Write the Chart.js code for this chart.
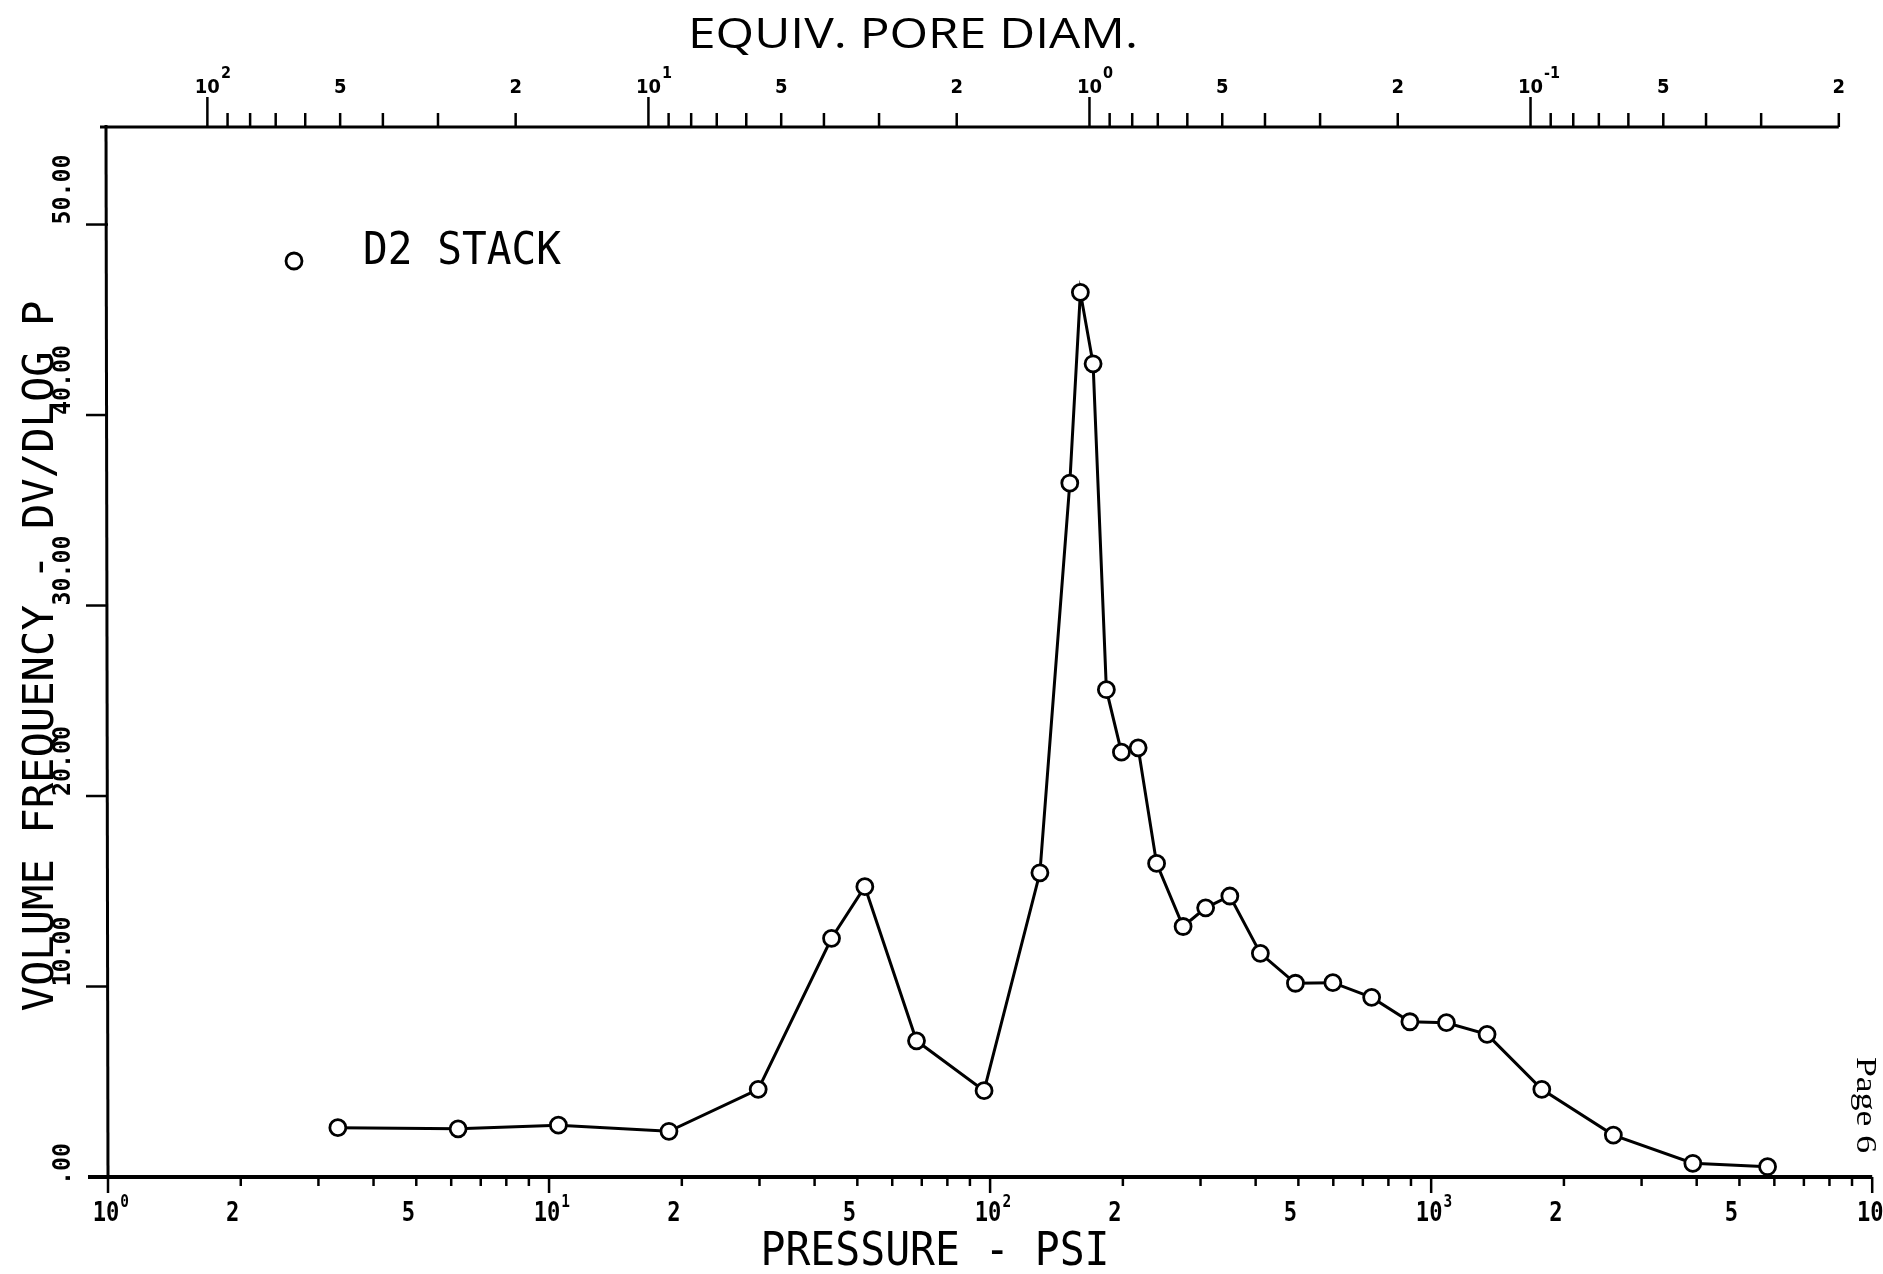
<!DOCTYPE html>
<html>
<head>
<meta charset="utf-8">
<script src="https://cdn.jsdelivr.net/npm/chart.js@4.4.0/dist/chart.umd.min.js"></script>
<style>
  html, body { margin: 0; padding: 0; background: #ffffff; }
  #wrap { width: 1883px; height: 1274px; position: relative; }
</style>
</head>
<body>
<div id="wrap"><canvas id="c" width="1883" height="1274"></canvas></div>
<script>
// ---------------- DATA ----------------
const seriesName = 'D2 STACK';
const pressurePsi = [3.32, 6.22, 10.5, 18.7, 29.8, 43.7, 52.0, 68.1, 96.9, 129.7, 151.6, 160.2, 171.2, 183.5, 198.5, 216.6,
  238.5, 273.9, 308.1, 349.6, 410, 492.4, 598.6, 733, 895, 1083, 1339, 1782, 2589, 3920, 5791];
const volumeFrequency = [2.59, 2.53, 2.72, 2.40, 4.60, 12.53, 15.24, 7.15, 4.53, 15.97, 36.43, 46.44, 42.69, 25.58, 22.30, 22.53,
  16.46, 13.15, 14.13, 14.75, 11.74, 10.17, 10.20, 9.43, 8.15, 8.10, 7.49, 4.60, 2.20, 0.72, 0.54];

const pressureMin = 1;
const pressureMax = 10000;
const pressureLabelValues = [1, 2, 5, 10, 20, 50, 100, 200, 500, 1000, 2000, 5000, 10000];
const pressureLabels = ['10^0', '2', '5', '10^1', '2', '5', '10^2', '2', '5', '10^3', '2', '5', '10^4'];

const washburnConstant = 168; // equiv. pore diameter (µm) = constant / pressure (psi)
const diameterLabelValues = [100, 50, 20, 10, 5, 2, 1, 0.5, 0.2, 0.1, 0.05, 0.02];
const diameterLabels = ['10^2', '5', '2', '10^1', '5', '2', '10^0', '5', '2', '10^-1', '5', '2'];
const diameterTickValues = [100, 90, 80, 70, 60, 50, 40, 30, 20, 10, 9, 8, 7, 6, 5, 4, 3, 2, 1,
  0.9, 0.8, 0.7, 0.6, 0.5, 0.4, 0.3, 0.2, 0.1, 0.09, 0.08, 0.07, 0.06, 0.05, 0.04, 0.03, 0.02];

const volumeMin = 0;
const volumeMax = 55.12;
const volumeTicks = [0, 10, 20, 30, 40, 50];
const volumeLabels = ['.00', '10.00', '20.00', '30.00', '40.00', '50.00'];

const titleTop = 'EQUIV. PORE DIAM.';
const titleBottom = 'PRESSURE - PSI';
const titleLeft = 'VOLUME FREQUENCY - DV/DLOG P';
const pageNote = 'Page 6';

// ---------------- HELPERS ----------------
const PLOT_FONT = '"DejaVu Sans Mono", "Liberation Mono", monospace';
const isDecade = v => { const l = Math.log10(v); return Math.abs(l - Math.round(l)) < 1e-9; };
const pressureTickValues = [];
for (let e = 0; e < 4; e++) for (let m = 1; m <= 9; m++) pressureTickValues.push(m * Math.pow(10, e));
pressureTickValues.push(10000);

function textAt(ctx, text, x, y, font, o = {}) {
  ctx.save();
  ctx.translate(x, y);
  if (o.rotate) ctx.rotate(o.rotate);
  ctx.font = font;
  let sx = o.scaleX || 1;
  if (o.fitWidth) sx = o.fitWidth / ctx.measureText(text).width;
  ctx.scale(sx, 1);
  ctx.fillStyle = '#000';
  ctx.textAlign = o.align || 'left';
  ctx.textBaseline = o.baseline || 'alphabetic';
  ctx.fillText(text, 0, 0);
  ctx.restore();
}

// label centred on the tick (shifted a little left, as the plotter did); exponent raised to the right
function powerLabel(ctx, label, x, y, font, supFont, supRise, sx, shiftBase, shiftDigit) {
  if (label.indexOf('^') < 0) { textAt(ctx, label, x - shiftDigit, y, font, {align: 'center', scaleX: sx}); return; }
  const [base, exp] = label.split('^');
  ctx.save();
  ctx.font = font;
  const bw = ctx.measureText(base).width * sx;
  ctx.restore();
  textAt(ctx, base, x - shiftBase, y, font, {align: 'center', scaleX: sx});
  textAt(ctx, exp, x - shiftBase + bw / 2 + 1, y - supRise, supFont, {align: 'left', scaleX: sx});
}

const plotterAxes = {
  id: 'plotterAxes',
  beforeDatasetsDraw(chart) {
    const {ctx, chartArea: a, scales: {x, y}} = chart;
    ctx.save();
    ctx.strokeStyle = '#000';
    ctx.lineCap = 'butt';

    // ---- bottom axis (pressure) ----
    ctx.lineWidth = 4;
    ctx.beginPath(); ctx.moveTo(a.left - 20, a.bottom); ctx.lineTo(a.right, a.bottom); ctx.stroke();
    ctx.lineWidth = 2.5;
    pressureTickValues.forEach(v => {
      const px = x.getPixelForValue(v);
      const len = isDecade(v) ? 16 : 9;
      ctx.beginPath(); ctx.moveTo(px, a.bottom); ctx.lineTo(px, a.bottom + len); ctx.stroke();
    });
    pressureLabelValues.forEach((v, i) => {
      powerLabel(ctx, pressureLabels[i], x.getPixelForValue(v), a.bottom + 44,
        'bold 26px ' + PLOT_FONT, 'bold 17px ' + PLOT_FONT, 14, 0.85, 2, 8);
    });
    textAt(ctx, titleBottom, 935, a.bottom + 88, '46px ' + PLOT_FONT, {align: 'center', fitWidth: 349});

    // ---- left axis (volume frequency) ----
    ctx.lineWidth = 3;
    ctx.beginPath(); ctx.moveTo(a.left - 2, a.top - 2); ctx.lineTo(a.left, a.bottom); ctx.stroke();
    ctx.lineWidth = 2.5;
    volumeTicks.forEach((v, i) => {
      const py = y.getPixelForValue(v);
      if (v > 0) { ctx.beginPath(); ctx.moveTo(a.left - 22, py); ctx.lineTo(a.left, py); ctx.stroke(); }
      textAt(ctx, volumeLabels[i], a.left - 38, py + (v === 0 ? 8 : 0), 'bold 25px ' + PLOT_FONT,
        {rotate: -Math.PI / 2, align: 'left', scaleX: 0.93});
    });
    textAt(ctx, titleLeft, 53, (a.top + a.bottom) / 2 + 4, '42px ' + PLOT_FONT,
      {rotate: -Math.PI / 2, align: 'center', fitWidth: 711});

    // ---- top axis (equivalent pore diameter) ----
    const dPix = d => x.getPixelForValue(washburnConstant / d);
    const topEnd = dPix(diameterTickValues[diameterTickValues.length - 1]);
    ctx.lineWidth = 3;
    ctx.beginPath(); ctx.moveTo(a.left - 8, a.top); ctx.lineTo(topEnd, a.top); ctx.stroke();
    ctx.lineWidth = 2.5;
    diameterTickValues.forEach(d => {
      const px = dPix(d);
      const len = isDecade(d) ? 30 : 14;
      ctx.beginPath(); ctx.moveTo(px, a.top); ctx.lineTo(px, a.top - len); ctx.stroke();
    });
    diameterLabelValues.forEach((d, i) => {
      powerLabel(ctx, diameterLabels[i], dPix(d), a.top - 34,
        'bold 20px "DejaVu Sans", sans-serif', 'bold 16px "DejaVu Sans", sans-serif', 15, 0.9, 0, 0);
    });
    textAt(ctx, titleTop, 913, 48, '42px "Open Sans", "DejaVu Sans", sans-serif', {align: 'center', fitWidth: 450});

    // ---- legend ----
    ctx.lineWidth = 2.8;
    ctx.fillStyle = '#fff';
    ctx.beginPath(); ctx.arc(294, 261, 8, 0, Math.PI * 2); ctx.fill(); ctx.stroke();
    textAt(ctx, seriesName, 363, 264, '44px ' + PLOT_FONT, {fitWidth: 198});

    // ---- page note ----
    textAt(ctx, pageNote, 1857, 1057, '29px "Liberation Serif", "DejaVu Serif", serif',
      {rotate: Math.PI / 2, align: 'left', fitWidth: 96});
    ctx.restore();
  }
};

new Chart(document.getElementById('c').getContext('2d'), {
  type: 'line',
  data: {
    datasets: [{
      label: seriesName,
      data: pressurePsi.map((p, i) => ({x: p, y: volumeFrequency[i]})),
      borderColor: '#000',
      borderWidth: 3,
      tension: 0,
      fill: false,
      pointRadius: 8,
      pointBorderWidth: 2.8,
      pointBackgroundColor: '#fff',
      pointBorderColor: '#000',
      clip: false
    }]
  },
  options: {
    responsive: false,
    animation: false,
    devicePixelRatio: 1,
    layout: {padding: {left: 108, right: 9, top: 127, bottom: 97}},
    plugins: {legend: {display: false}, tooltip: {enabled: false}},
    scales: {
      x: {type: 'logarithmic', min: pressureMin, max: pressureMax, display: false},
      y: {type: 'linear', min: volumeMin, max: volumeMax, display: false}
    }
  },
  plugins: [plotterAxes]
});
</script>
</body>
</html>
